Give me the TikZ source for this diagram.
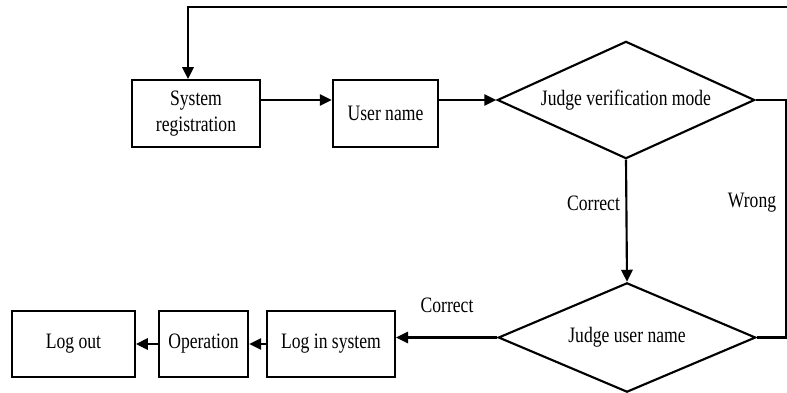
\documentclass[tikz,border=0pt]{standalone}
\usepackage{fontspec}
\setmainfont[FakeStretch=0.8]{Liberation Serif}
\usetikzlibrary{shapes.geometric,arrows.meta}

\tikzset{every picture/.style={line width=1.6pt}}
\tikzset{
  box/.style={draw, rectangle, inner sep=0.75pt, align=center, font=\fontsize{16.5}{20}\selectfont},
  decision/.style={draw, diamond, aspect=2.2, inner sep=0pt, font=\fontsize{16.5}{20}\selectfont},
  flow/.style={-{Triangle[length=9pt,width=8.5pt]}},
  tag/.style={inner sep=0.75pt, font=\fontsize{16.5}{20}\selectfont}
}

\begin{document}
\begin{tikzpicture}[x=0.75pt,y=0.75pt,yscale=-1,xscale=1]
\useasboundingbox (0,0) rectangle (787,392);

% Boxes, top row
\node [box, minimum width=96pt, minimum height=50pt] (reg) at (196,113.5) {System\\registration};
\node [box, minimum width=79pt, minimum height=50pt] (user) at (385.5,113.5) {User name};
% Decisions
\node [decision, minimum width=193pt, minimum height=88pt] (judge) at (626,100) {Judge verification mode};
\node [decision, minimum width=193pt, minimum height=82pt] (uname) at (627,337.5) {Judge user name};
% Boxes, bottom row
\node [box, minimum width=96pt, minimum height=50pt] (login) at (331,344) {Log in system};
\node [box, minimum width=67pt, minimum height=50pt] (oper) at (203.5,344) {Operation};
\node [box, minimum width=92pt, minimum height=50pt] (logout) at (73.5,344) {Log out};

% Helper points
\coordinate (topr) at (787,7);
\coordinate (rgt) at (786,98);

% Connectors
\draw [flow] (reg.east |- judge.west) -- (user.west |- judge.west);
\draw [flow] (user.east |- judge.west) -- (judge.west);
\draw [flow] (judge.south) -- (uname.north);
\draw (judge.east) -- (judge.east -| rgt) |- (uname.east);
\draw [flow] (topr) -| ([xshift=-6pt]reg.north);
\draw [flow] (uname.west) -- (uname.west -| login.east);
\draw [flow] (login.west) -- (oper.east);
\draw [flow] (oper.west) -- (logout.east);

% Text Node
\node [tag, anchor=east] (lcor1) at (622,203) {Correct};
% Text Node
\node [tag] (lwrong) at (752,203) {Wrong};
% Text Node
\node [tag] (lcor2) at (447,305) {Correct};

\end{tikzpicture}
\end{document}
